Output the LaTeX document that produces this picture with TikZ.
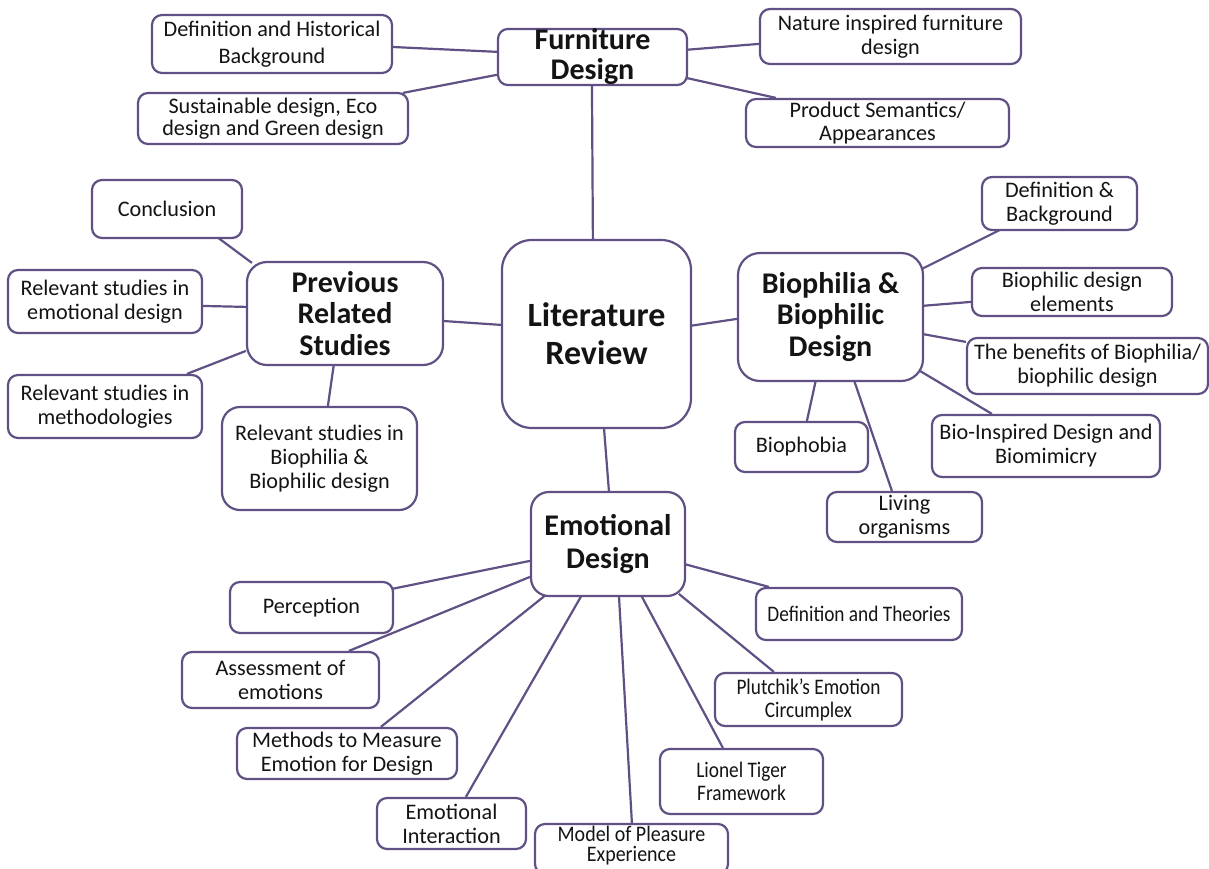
\documentclass[tikz,border=0pt]{standalone}
\usepackage{fontspec}
\setmainfont{Carlito}
\usetikzlibrary{calc}
\pgfdeclarelayer{background}
\pgfsetlayers{background,main}
\definecolor{edge}{RGB}{96,80,132}
\definecolor{ink}{RGB}{20,20,20}
% horizontally condensed lettering used in the lower right boxes
\newcommand\squeeze[2][0.87]{\scalebox{#1}[1]{#2}}
\tikzset{
  words/.style={inner sep=0pt, align=center, text=ink, font=\fontsize{22.2}{24}\selectfont},
  topic/.style={words, draw=edge, line width=2.2pt, fill=white, rounded corners=10pt},
  hub/.style={topic, rounded corners=18pt, font=\bfseries\fontsize{30}{31.5}\selectfont},
  link/.style={draw=edge, line width=2.2pt},
}
\begin{document}
\begin{tikzpicture}[x=1pt, y=-1pt]
\useasboundingbox (0,0) rectangle (1209,868);
\clip (0,0) rectangle (1209,868);

% ---- central topic
\node[hub, rounded corners=30pt, minimum width=189pt, minimum height=188pt,
  font=\bfseries\fontsize{34}{38}\selectfont] (lr) at (596.5,334) {Literature\\Review};

% ---- furniture design branch
\node[hub, rounded corners=10pt, minimum width=189pt, minimum height=55pt,
  font=\bfseries\fontsize{30}{30}\selectfont] (fd) at (592.5,57) {Furniture\\Design};
\node[topic, minimum width=240pt, minimum height=58pt, font=\fontsize{22.2}{27}\selectfont] (dh) at (272,44) {Definition and Historical\\Background};
\node[topic, minimum width=270pt, minimum height=51pt, font=\fontsize{22.2}{22.5}\selectfont] (sus) at (273,118.5) {Sustainable design, Eco\\design and Green design};
\node[topic, minimum width=261pt, minimum height=55pt] (nat) at (890.5,36.5) {Nature inspired furniture\\design};
\node[topic, minimum width=263pt, minimum height=48pt, font=\fontsize{22.2}{22.5}\selectfont] (ps) at (877.5,123) {Product Semantics/\\Appearances};

% ---- previous related studies branch
\node[hub, rounded corners=20pt, minimum width=196pt, minimum height=103pt] (prs) at (345,313.5) {Previous\\Related\\Studies};
\node[topic, minimum width=150pt, minimum height=58pt] (conc) at (167,209) {Conclusion};
\node[topic, minimum width=194pt, minimum height=63pt] (red) at (105,301.5) {Relevant studies in\\emotional design};
\node[topic, minimum width=194pt, minimum height=63pt] (rmeth) at (105,406.5) {Relevant studies in\\methodologies};
\node[topic, rounded corners=18pt, minimum width=195pt, minimum height=103pt] (rbio) at (319.5,458.5) {Relevant studies in\\Biophilia \&\\Biophilic design};

% ---- biophilia branch
\node[hub, rounded corners=22pt, minimum width=185pt, minimum height=128pt] (bio) at (830.5,317) {Biophilia \&\\Biophilic\\Design};
\node[topic, minimum width=155pt, minimum height=53pt] (dbg) at (1059.5,203.5) {Definition \&\\Background};
\node[topic, minimum width=200pt, minimum height=48pt] (bde) at (1072,292) {Biophilic design\\elements};
\node[topic, minimum width=241pt, minimum height=56pt] (ben) at (1087.5,366) {The benefits of Biophilia/\\biophilic design};
\node[topic, minimum width=228pt, minimum height=62pt] (bid) at (1046,446) {Bio-Inspired Design and\\Biomimicry};
\node[topic, minimum width=133pt, minimum height=50pt] (bph) at (801.5,447) {Biophobia};
\node[topic, minimum width=155pt, minimum height=50pt] (liv) at (904.5,517) {Living\\organisms};

% ---- emotional design branch
\node[hub, minimum width=154pt, minimum height=104pt, font=\bfseries\fontsize{30}{33}\selectfont] (emo) at (608,544) {Emotional\\Design};
\node[topic, minimum width=163pt, minimum height=51pt] (per) at (311.5,607.5) {Perception};
\node[topic, minimum width=197pt, minimum height=56pt] (ass) at (280.5,680) {Assessment of\\emotions};
\node[topic, minimum width=220pt, minimum height=51pt] (meth) at (347,753.5) {Methods to Measure\\Emotion for Design};
\node[topic, minimum width=149pt, minimum height=51pt] (eint) at (451.5,823.5) {Emotional\\Interaction};
% this box runs past the lower edge; its text sits a little high so it stays whole
\node[topic, minimum width=193pt, minimum height=50pt] (mod) at (631.5,849) {};
\node[words, font=\fontsize{22.2}{20}\selectfont] (modtext) at (631.5,845.5) {\squeeze[0.9]{Model of Pleasure}\\\squeeze[0.9]{Experience}};
\node[topic, minimum width=163pt, minimum height=65pt, font=\fontsize{22.2}{23}\selectfont] (lt) at (741.5,781.5) {\squeeze{Lionel Tiger}\\\squeeze{Framework}};
\node[topic, minimum width=187pt, minimum height=53pt, font=\fontsize{22.2}{23}\selectfont] (plu) at (808.5,699.5) {\squeeze{Plutchik’s Emotion}\\\squeeze{Circumplex}};
\node[topic, minimum width=206pt, minimum height=52pt] (dth) at (859,614) {\squeeze{Definition and Theories}};

\begin{pgfonlayer}{background}
  \fill[white] (0,0) rectangle (1209,868);
  % central topic to the four branches
  \draw[link] ($(lr.north west)+(92,0)$) -- ($(fd.north west)+(95,50)$);
  \draw[link] ($(lr.north west)+(0,86)$) -- ($(prs.north west)+(196,60)$);
  \draw[link] ($(lr.north west)+(189,87)$) -- ($(bio.north west)+(0,67)$);
  \draw[link] ($(lr.north west)+(103,188)$) -- ($(emo.north west)+(79,0)$);
  % furniture design
  \draw[link] ($(fd.north west)+(0,24)$) -- ($(dh.north west)+(240,33)$);
  \draw[link] ($(fd.north west)+(0,47)$) -- ($(sus.north west)+(266,1)$);
  \draw[link] ($(fd.north west)+(189,22)$) -- ($(nat.north west)+(0,36)$);
  \draw[link] ($(fd.north west)+(189,50)$) -- ($(ps.north west)+(31,0)$);
  % previous related studies
  \draw[link] ($(prs.north west)+(6,2)$) -- ($(conc.north west)+(126,58)$);
  \draw[link] ($(prs.north west)+(0,46)$) -- ($(red.north west)+(194,37)$);
  \draw[link] ($(prs.north west)+(0,90)$) -- ($(rmeth.north west)+(180,0)$);
  \draw[link] ($(prs.north west)+(88,103)$) -- ($(rbio.north west)+(107,0)$);
  % biophilia
  \draw[link] ($(bio.north west)+(185,17)$) -- ($(dbg.north west)+(21,53)$);
  \draw[link] ($(bio.north west)+(185,54)$) -- ($(bde.north west)+(0,35)$);
  \draw[link] ($(bio.north west)+(185,82)$) -- ($(ben.north west)+(0,5)$);
  \draw[link] ($(bio.north west)+(183,119)$) -- ($(bid.north west)+(61,0)$);
  \draw[link] ($(bio.north west)+(79,128)$) -- ($(bph.north west)+(73,0)$);
  \draw[link] ($(bio.north west)+(117,128)$) -- ($(liv.north west)+(66,0)$);
  % emotional design
  \draw[link] ($(emo.north west)+(0,70)$) -- ($(per.north west)+(163,8)$);
  \draw[link] ($(emo.north west)+(0,86)$) -- ($(ass.north west)+(168,0)$);
  \draw[link] ($(emo.north west)+(16,104)$) -- ($(meth.north west)+(145,0)$);
  \draw[link] ($(emo.north west)+(52,104)$) -- ($(eint.north west)+(90,0)$);
  \draw[link] ($(emo.north west)+(89,104)$) -- ($(mod.north west)+(98,0)$);
  \draw[link] ($(emo.north west)+(111,104)$) -- ($(lt.north west)+(64,0)$);
  \draw[link] ($(emo.north west)+(149,103)$) -- ($(plu.north west)+(60,0)$);
  \draw[link] ($(emo.north west)+(154,73)$) -- ($(dth.north west)+(14,0)$);
\end{pgfonlayer}
\end{tikzpicture}
\end{document}
